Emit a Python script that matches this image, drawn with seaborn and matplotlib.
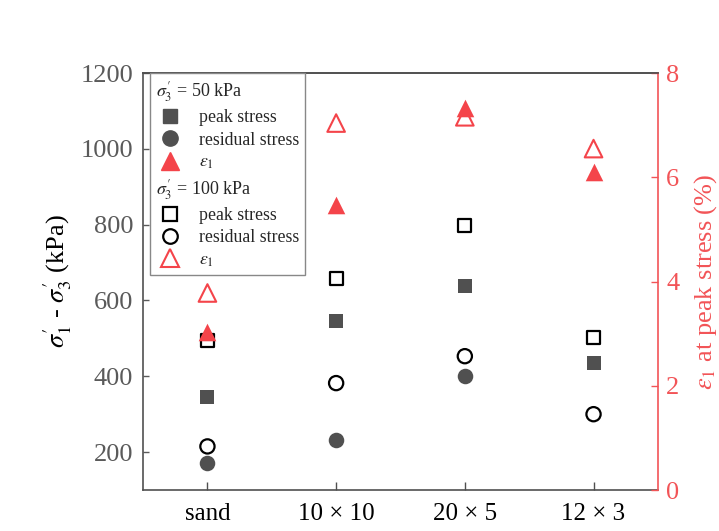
import matplotlib
matplotlib.use("Agg")
import matplotlib.pyplot as plt
import seaborn as sns
import numpy as np
from matplotlib.lines import Line2D

# Sample groups along the x axis
groups = ["sand", "10 × 10", "20 × 5", "12 × 3"]

# Deviator stress (kPa), sigma'_3 = 50 kPa
peak_50 = [345, 546, 638, 435]
residual_50 = [172, 233, 400, np.nan]
# Axial strain at peak stress (%), sigma'_3 = 50 kPa
eps_50 = [3.03, 5.47, 7.33, 6.10]

# Deviator stress (kPa), sigma'_3 = 100 kPa
peak_100 = [495, 657, 797, 503]
residual_100 = [215, 382, 453, 300]
# Axial strain at peak stress (%), sigma'_3 = 100 kPa
eps_100 = [3.78, 7.04, 7.16, 6.55]

GRAY = "#505050"
RED = "#f4444a"
TICK_GRAY = "#5a5a5a"

sns.set_theme(style="ticks")
plt.rcParams["font.family"] = ["Liberation Serif", "DejaVu Serif"]
plt.rcParams["mathtext.fontset"] = "stix"

fig = plt.figure(figsize=(7.19, 5.31), dpi=100)
ax = fig.add_axes([0.199, 0.0772, 0.716, 0.7853])
ax2 = ax.twinx()

xpos = np.arange(len(groups))

# Stress markers on the left axis
sns.scatterplot(x=xpos, y=peak_50, marker="s", s=90, color=GRAY,
                edgecolor=GRAY, linewidth=0, ax=ax, zorder=3)
sns.scatterplot(x=xpos, y=residual_50, marker="o", s=125, color=GRAY,
                edgecolor=GRAY, linewidth=0, ax=ax, zorder=3)
sns.scatterplot(x=xpos, y=peak_100, marker="s", s=85, color="black",
                facecolor="none", edgecolor="black", linewidth=1.6, ax=ax, zorder=3)
sns.scatterplot(x=xpos, y=residual_100, marker="o", s=105, color="black",
                facecolor="none", edgecolor="black", linewidth=1.6, ax=ax, zorder=3)

# Strain markers on the right axis
sns.scatterplot(x=xpos, y=eps_50, marker="^", s=160, color=RED,
                edgecolor=RED, linewidth=0, ax=ax2, zorder=3)
sns.scatterplot(x=xpos, y=eps_100, marker="^", s=160, color=RED,
                facecolor="none", edgecolor=RED, linewidth=1.5, ax=ax2, zorder=3)

ax.set_xlim(-0.5, 3.5)
ax.set_ylim(100, 1200)
ax.set_yticks([200, 400, 600, 800, 1000, 1200])
ax.set_xticks(xpos)
ax.set_xticklabels(groups)
ax2.set_ylim(0, 8)
ax2.set_yticks([0, 2, 4, 6, 8])

ax.set_ylabel(r"$\sigma_1^{\prime}$ - $\sigma_3^{\prime}$ (kPa)", fontsize=19,
              color="black", labelpad=5)
ax2.set_ylabel(r"$\varepsilon_1$ at peak stress (%)", fontsize=19,
               color="#f25457", labelpad=9)

ax.tick_params(axis="y", direction="in", length=4, width=1, colors=TICK_GRAY,
               labelsize=19, pad=7)
ax.tick_params(axis="x", direction="in", length=6, width=1, colors=GRAY,
               labelcolor="black", labelsize=18, pad=9)
ax2.tick_params(axis="y", direction="in", length=5, width=1, colors="#f25457",
                labelsize=19, pad=6)

for sp in ["left", "bottom", "top"]:
    ax.spines[sp].set_color(GRAY)
    ax.spines[sp].set_linewidth(1.2)
    ax2.spines[sp].set_visible(False)
ax.spines["right"].set_visible(False)
ax2.spines["right"].set_color("#f25457")
ax2.spines["right"].set_linewidth(1.2)
ax2.spines["top"].set_visible(True)
ax2.spines["top"].set_color(GRAY)
ax2.spines["top"].set_linewidth(1.2)

# Grouped legend with a header line for each confining pressure
blank = Line2D([], [], linestyle="none")
handles = [
    blank,
    Line2D([], [], marker="s", linestyle="none", markersize=9.5,
           markerfacecolor=GRAY, markeredgecolor=GRAY),
    Line2D([], [], marker="o", linestyle="none", markersize=11,
           markerfacecolor=GRAY, markeredgecolor=GRAY),
    Line2D([], [], marker="^", linestyle="none", markersize=13,
           markerfacecolor=RED, markeredgecolor=RED),
    blank,
    Line2D([], [], marker="s", linestyle="none", markersize=9.5,
           markerfacecolor="none", markeredgecolor="black", markeredgewidth=1.6),
    Line2D([], [], marker="o", linestyle="none", markersize=10.5,
           markerfacecolor="none", markeredgecolor="black", markeredgewidth=1.6),
    Line2D([], [], marker="^", linestyle="none", markersize=13,
           markerfacecolor="none", markeredgecolor=RED, markeredgewidth=1.5),
]
labels = [
    r"$\sigma_3^{\prime}$ = 50 kPa",
    "peak stress",
    "residual stress",
    r"$\varepsilon_1$",
    r"$\sigma_3^{\prime}$ = 100 kPa",
    "peak stress",
    "residual stress",
    r"$\varepsilon_1$",
]
leg = ax2.legend(handles, labels, loc="upper left",
                 bbox_to_anchor=(0.0136, 1.0), borderaxespad=0,
                 fontsize=12.8, frameon=True, fancybox=False,
                 edgecolor="#888888", framealpha=1, handlelength=1.5,
                 handletextpad=0.9, labelspacing=0.3, borderpad=0.35)
leg.get_frame().set_linewidth(1.0)

# Pull the header rows flush to the left edge of the legend box
rows = leg._legend_handle_box.get_children()[0].get_children()
for idx in (0, 4):
    row = rows[idx]
    row.sep = 0
    row.get_children()[0].width = 0
    leg.get_texts()[idx].set_fontsize(13)

fig.savefig("out.png", dpi=100)
